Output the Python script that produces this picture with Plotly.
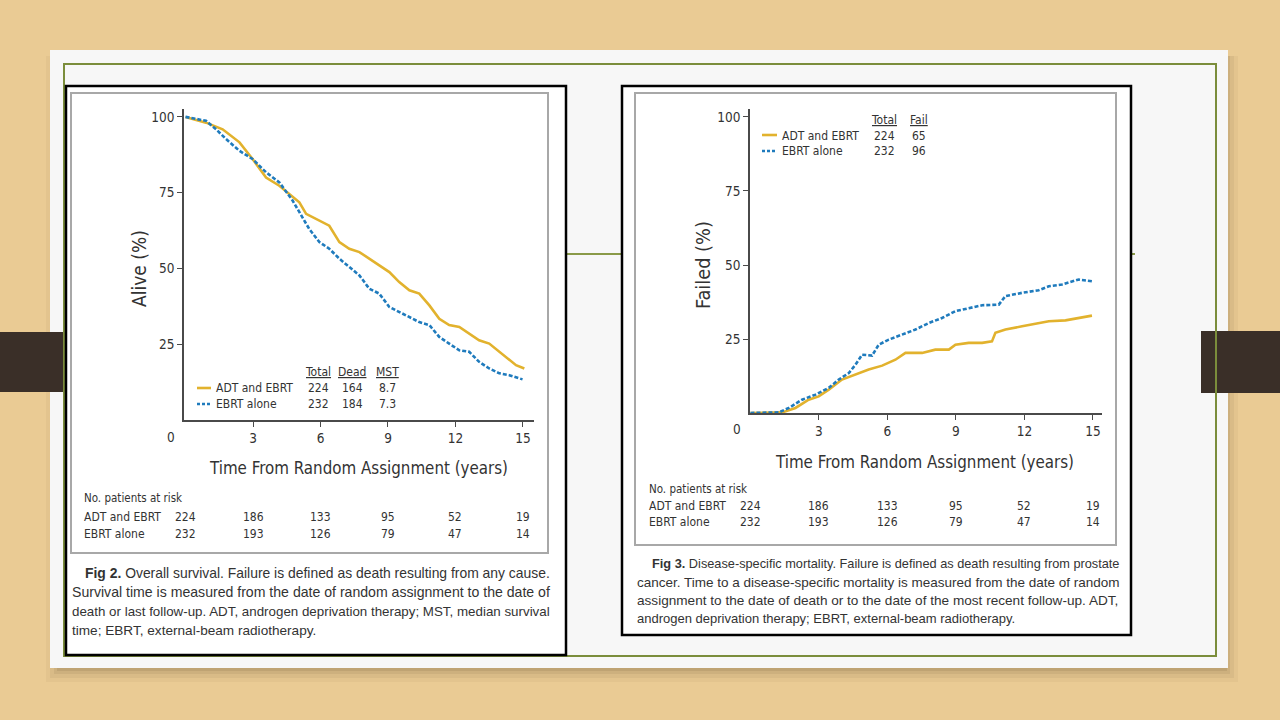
import plotly.graph_objects as go

# ---------------- data ----------------
# Fig 2 - overall survival (Alive %)
os_adt_t = [0, 0.91, 1.65, 2.4, 2.98, 3.58, 4.17, 4.76, 5.06, 5.36, 5.95, 6.39, 6.84, 7.28, 7.73,
            8.17, 8.61, 9.06, 9.5, 9.95, 10.39, 10.84, 11.28, 11.72, 12.17, 12.61, 13.05, 13.5,
            13.95, 14.39, 14.69, 15.06]
os_adt_v = [100, 98.1, 95.9, 91.6, 86.1, 80, 77.3, 73.5, 71.8, 68, 65.8, 64.1, 58.7, 56.5, 55.4,
            53.2, 51, 48.8, 45.5, 42.8, 41.7, 37.8, 33.4, 31.3, 30.7, 28.5, 26.3, 25.2,
            22.5, 19.7, 18.1, 17]
os_ebrt_t = [0, 0.91, 1.36, 1.8, 2.4, 2.98, 3.58, 4.17, 4.76, 5.06, 5.5, 5.95, 6.39, 6.84, 7.28,
             7.73, 8.17, 8.61, 9.06, 9.5, 9.95, 10.39, 10.84, 11.28, 11.72, 12.17, 12.61, 13.05,
             13.5, 13.95, 14.39, 14.98]
os_ebrt_v = [100, 98.7, 95.9, 92.7, 88.8, 86.1, 81.7, 78.4, 72.4, 68.5, 63, 58.7, 56.5, 53.2, 50.4,
             47.7, 43.3, 41.7, 37.3, 35.6, 34, 32.3, 31.3, 27.4, 25.2, 23, 22.5, 19.2,
             17, 15.4, 14.8, 13.4]

# Fig 3 - disease-specific mortality (Failed %)
dsm_adt_t = [0, 1.39, 1.97, 2.55, 2.99, 3.43, 4.01, 4.6, 5.18, 5.77, 6.35, 6.79, 7.52, 8.1, 8.69,
             8.98, 9.56, 10.15, 10.58, 10.73, 11.17, 11.9, 12.48, 13.07, 13.8, 14.38, 14.96]
dsm_adt_v = [0, 0.2, 1.7, 4.5, 5.6, 7.9, 11.3, 13, 14.7, 16, 18, 20.3, 20.3, 21.4, 21.4,
             23.1, 23.7, 23.7, 24.2, 27.1, 28.2, 29.3, 30.2, 31, 31.3, 32.1, 32.9]
dsm_ebrt_t = [0, 1.24, 1.68, 2.26, 2.85, 3.43, 3.87, 4.31, 4.6, 4.89, 5.33, 5.62, 6.06, 6.64, 7.23,
              7.81, 8.39, 8.98, 9.56, 10.15, 10.88, 11.17, 11.9, 12.63, 13.07, 13.65, 14.38, 14.96]
dsm_ebrt_v = [0, 0.2, 1.7, 4.5, 6.2, 8.5, 11.3, 13.5, 16.3, 19.7, 19.4, 23.1, 24.8, 26.5, 28.2,
              30.4, 32.1, 34.4, 35.5, 36.4, 36.6, 39.5, 40.6, 41.5, 42.8, 43.4, 45.1, 44.5]

# ticks and at-risk tables
x_ticks = [3, 6, 9, 12, 15]
y_ticks = [25, 50, 75, 100]
risk_times = [0, 3, 6, 9, 12, 15]
risk_adt = [224, 186, 133, 95, 52, 19]
risk_ebrt = [232, 193, 126, 79, 47, 14]
group_names = ["ADT and EBRT", "EBRT alone"]
os_table_head = ["Total", "Dead", "MST"]
os_table = [["224", "164", "8.7"], ["232", "184", "7.3"]]
dsm_table_head = ["Total", "Fail"]
dsm_table = [["224", "65"], ["232", "96"]]

caption2 = ["<b>Fig 2.</b> Overall survival. Failure is defined as death resulting from any cause.",
            "Survival time is measured from the date of random assignment to the date of",
            "death or last follow-up. ADT, androgen deprivation therapy; MST, median survival",
            "time; EBRT, external-beam radiotherapy."]
caption3 = ["<b>Fig 3.</b> Disease-specific mortality. Failure is defined as death resulting from prostate",
            "cancer. Time to a disease-specific mortality is measured from the date of random",
            "assignment to the date of death or to the date of the most recent follow-up. ADT,",
            "androgen deprivation therapy; EBRT, external-beam radiotherapy."]

# ---------------- styling ----------------
W, H = 1280, 720
YELLOW = "#e2b22d"
BLUE = "#1f7bbd"
TXT = "#333333"
AX = "#4a4a4a"
NARROW = "DejaVu Sans Condensed, Roboto, Liberation Sans, sans-serif"
REG = "Liberation Sans, Arial, sans-serif"


def X(p):
    return p / W


def Y(p):
    return 1 - p / H


fig = go.Figure()

fig.add_trace(go.Scatter(x=os_adt_t, y=os_adt_v, mode="lines", xaxis="x", yaxis="y",
                         line=dict(color=YELLOW, width=2.6), showlegend=False))
fig.add_trace(go.Scatter(x=os_ebrt_t, y=os_ebrt_v, mode="lines", xaxis="x", yaxis="y",
                         line=dict(color=BLUE, width=2.6, dash="4px,2px"), showlegend=False))
fig.add_trace(go.Scatter(x=dsm_adt_t, y=dsm_adt_v, mode="lines", xaxis="x2", yaxis="y2",
                         line=dict(color=YELLOW, width=2.6), showlegend=False))
fig.add_trace(go.Scatter(x=dsm_ebrt_t, y=dsm_ebrt_v, mode="lines", xaxis="x2", yaxis="y2",
                         line=dict(color=BLUE, width=2.6, dash="4px,2px"), showlegend=False))

axis_common = dict(showline=True, linecolor=AX, linewidth=1.6, ticks="outside", ticklen=5,
                   tickcolor=AX, tickwidth=1.4, showgrid=False, zeroline=False,
                   tickfont=dict(family=NARROW, size=13.5, color=TXT), fixedrange=True)

shapes = []
# drop shadow of the slide
for k, op in [(14, 0.05), (10, 0.07), (6, 0.09), (3, 0.12)]:
    shapes.append(dict(type="rect", xref="paper", yref="paper", layer="below",
                       x0=X(50 + 10 - k), x1=X(1228 + k - 4), y0=Y(668 + k), y1=Y(56),
                       fillcolor="rgba(90,70,40,%s)" % op, line=dict(width=0)))
# slide
shapes.append(dict(type="rect", xref="paper", yref="paper", layer="below",
                   x0=X(50), x1=X(1228), y0=Y(668), y1=Y(50),
                   fillcolor="#f7f7f7", line=dict(width=0)))
# dark bars
shapes.append(dict(type="rect", xref="paper", yref="paper", layer="below",
                   x0=X(0), x1=X(65), y0=Y(392), y1=Y(332), fillcolor="#3a2f28", line=dict(width=0)))
shapes.append(dict(type="rect", xref="paper", yref="paper", layer="below",
                   x0=X(1201), x1=X(1280), y0=Y(393), y1=Y(331), fillcolor="#3a2f28", line=dict(width=0)))
# green frame
shapes.append(dict(type="rect", xref="paper", yref="paper", layer="below",
                   x0=X(64), x1=X(1216), y0=Y(656), y1=Y(64),
                   fillcolor="rgba(0,0,0,0)", line=dict(color="#7b8d3b", width=2)))
shapes.append(dict(type="line", xref="paper", yref="paper", layer="below",
                   x0=X(566), x1=X(1135), y0=Y(254), y1=Y(254),
                   line=dict(color="#8a9a48", width=2)))
# figure panels
for (x0, y0, x1, y1) in [(66, 86, 566, 655), (622, 86, 1131, 635)]:
    shapes.append(dict(type="rect", xref="paper", yref="paper", layer="below",
                       x0=X(x0), x1=X(x1), y0=Y(y1), y1=Y(y0),
                       fillcolor="white", line=dict(color="black", width=2.5)))
for (x0, y0, x1, y1) in [(71, 93, 548, 553), (635, 93, 1116, 545)]:
    shapes.append(dict(type="rect", xref="paper", yref="paper", layer="below",
                       x0=X(x0), x1=X(x1), y0=Y(y1), y1=Y(y0),
                       fillcolor="white", line=dict(color="#a8a8a8", width=2)))
# legend line samples
shapes.append(dict(type="line", xref="paper", yref="paper", x0=X(197), x1=X(211), y0=Y(388), y1=Y(388),
                   line=dict(color=YELLOW, width=2.6)))
shapes.append(dict(type="line", xref="paper", yref="paper", x0=X(197), x1=X(211), y0=Y(404), y1=Y(404),
                   line=dict(color=BLUE, width=2.6, dash="3px,2px")))
shapes.append(dict(type="line", xref="paper", yref="paper", x0=X(762), x1=X(777), y0=Y(135), y1=Y(135),
                   line=dict(color=YELLOW, width=2.6)))
shapes.append(dict(type="line", xref="paper", yref="paper", x0=X(762), x1=X(777), y0=Y(151), y1=Y(151),
                   line=dict(color=BLUE, width=2.6, dash="3px,2px")))

ann = []


def txt(x, y, s, size=13, family=NARROW, xanchor="left", angle=0, xref="paper", color=TXT):
    ann.append(dict(x=X(x) if xref == "paper" else x, y=Y(y), xref=xref, yref="paper", text=s,
                    showarrow=False, xanchor=xanchor, yanchor="middle", textangle=angle,
                    font=dict(family=family, size=size, color=color)))


# ---- Fig 2 texts ----
txt(139, 269, "Alive (%)", size=19, xanchor="center", angle=-90)
txt(171, 437, "0", size=13.5, xanchor="center")
txt(358, 468, "Time From Random Assignment (years)", size=16.8, xanchor="center")
for cx, h in zip([318, 352, 387], os_table_head):
    txt(cx, 372, "<u>%s</u>" % h, size=12, xanchor="center")
for r, (yy, name) in enumerate(zip([388, 404], group_names)):
    txt(214, yy, name, size=12)
    for cx, v in zip([318, 352, 387], os_table[r]):
        txt(cx, yy, v, size=12, xanchor="center")
txt(82, 498, "No. patients at risk", size=11.5)
txt(82, 517, group_names[0], size=12)
txt(82, 534, group_names[1], size=12)
for t, a, b in zip(risk_times, risk_adt, risk_ebrt):
    txt(t, 517, str(a), size=12, xanchor="center", xref="x")
    txt(t, 534, str(b), size=12, xanchor="center", xref="x")
for i, (line, yy, sz) in enumerate(zip(caption2, [573, 592, 611, 630], [13.9, 14.1, 13.35, 13.6])):
    txt(83 if i == 0 else 70, yy, line, size=sz, family=REG)

# ---- Fig 3 texts ----
txt(703, 265, "Failed (%)", size=19.8, xanchor="center", angle=-90)
txt(737, 429, "0", size=13.5, xanchor="center")
txt(924, 462, "Time From Random Assignment (years)", size=16.8, xanchor="center")
for cx, h in zip([884, 919], dsm_table_head):
    txt(cx, 120, "<u>%s</u>" % h, size=12, xanchor="center")
for r, (yy, name) in enumerate(zip([136, 151], group_names)):
    txt(780, yy, name, size=12)
    for cx, v in zip([884, 919], dsm_table[r]):
        txt(cx, yy, v, size=12, xanchor="center")
txt(647, 489, "No. patients at risk", size=11.5)
txt(647, 506, group_names[0], size=12)
txt(647, 522, group_names[1], size=12)
for t, a, b in zip(risk_times, risk_adt, risk_ebrt):
    txt(t, 506, str(a), size=12, xanchor="center", xref="x2")
    txt(t, 522, str(b), size=12, xanchor="center", xref="x2")
for i, (line, yy, sz) in enumerate(zip(caption3, [563, 582, 600, 618], [12.76, 13.5, 13.6, 13.0])):
    txt(650 if i == 0 else 635, yy, line, size=sz, family=REG)

fig.update_layout(
    width=W, height=H, margin=dict(l=0, r=0, t=0, b=0),
    paper_bgcolor="#eacb94", plot_bgcolor="rgba(0,0,0,0)",
    showlegend=False,
    xaxis=dict(axis_common, domain=[X(184), X(534)], range=[-0.067, 15.49], tickvals=x_ticks,
               anchor="y"),
    yaxis=dict(axis_common, domain=[Y(420), Y(109)], range=[0, 102.6], tickvals=y_ticks,
               anchor="x"),
    xaxis2=dict(axis_common, domain=[X(750), X(1102)], range=[-0.02, 15.4], tickvals=x_ticks,
                anchor="y2"),
    yaxis2=dict(axis_common, domain=[Y(413), Y(109)], range=[0, 102.7], tickvals=y_ticks,
                anchor="x2"),
    shapes=shapes, annotations=ann,
)

fig.write_html("out.html", config={"displayModeBar": False},
               post_script="document.body.style.margin='0px';")
